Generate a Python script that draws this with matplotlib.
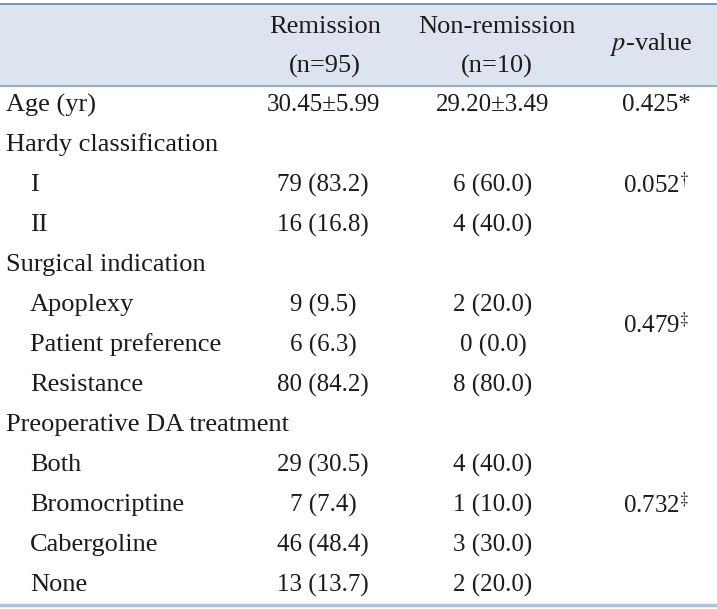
import matplotlib
matplotlib.use("Agg")
import matplotlib.pyplot as plt

plt.rcParams['font.family'] = ['Liberation Serif', 'DejaVu Serif']
plt.rcParams['mathtext.fontset'] = 'stix'

# table content
headers = ["Remission\n(n=95)", "Non-remission\n(n=10)", "$p$-value"]
labels = ["Age (yr)", "Hardy classification", "I", "II", "Surgical indication",
          "Apoplexy", "Patient preference", "Resistance", "Preoperative DA treatment",
          "Both", "Bromocriptine", "Cabergoline", "None"]
indent = [0, 0, 1, 1, 0, 1, 1, 1, 0, 1, 1, 1, 1]
remission = ["30.45\u00b15.99", "", "79 (83.2)", "16 (16.8)", "", "9 (9.5)", "6 (6.3)",
             "80 (84.2)", "", "29 (30.5)", "7 (7.4)", "46 (48.4)", "13 (13.7)"]
non_remission = ["29.20\u00b13.49", "", "6 (60.0)", "4 (40.0)", "", "2 (20.0)", "0 (0.0)",
                 "8 (80.0)", "", "4 (40.0)", "1 (10.0)", "3 (30.0)", "2 (20.0)"]
# p-values: (row position, text); fractional row = between rows
pvals = [(0, "0.425*"), (2, "0.052$^{\\dagger}$"), (5.5, "0.479$^{\\ddagger}$"),
         (10, "0.732$^{\\ddagger}$")]

W, H = 717, 609
fig = plt.figure(figsize=(W / 100, H / 100), dpi=100)
ax = fig.add_axes([0, 0, 1, 1])
ax.set_xlim(0, W)
ax.set_ylim(H, 0)
ax.axis('off')

fs = 19
fs_num = 18
col_x = [323, 493, 656]
head_x = [325, 497, 651]
row0, pitch = 105, 40
ink = '#1e1a1b'

# header band
ax.add_patch(plt.Rectangle((0, 4), W, 82, color='#dde3ef', zorder=0))
ax.plot([0, W], [4, 4], color='#5b86b6', lw=1.2)
ax.plot([0, W], [86, 86], color='#86a3c6', lw=1.2)

for j in range(3):
    ax.text(head_x[j], 47 if j < 2 else 45, headers[j], ha='center', va='center',
            fontsize=fs, linespacing=2.0, color=ink)

for i, lab in enumerate(labels):
    y = row0 + i * pitch
    ax.text(6 + 24 * indent[i], y, lab, ha='left', va='center', fontsize=fs, color=ink)
    ax.text(col_x[0], y, remission[i], ha='center', va='center', fontsize=fs_num, color=ink)
    ax.text(col_x[1], y, non_remission[i], ha='center', va='center', fontsize=fs_num, color=ink)

for r, txt in pvals:
    ax.text(col_x[2], row0 + r * pitch, txt, ha='center', va='center', fontsize=fs_num, color=ink)

ax.plot([0, W], [605, 605], color='#a9c1dc', lw=2.5)

fig.savefig("out.png", dpi=100)
